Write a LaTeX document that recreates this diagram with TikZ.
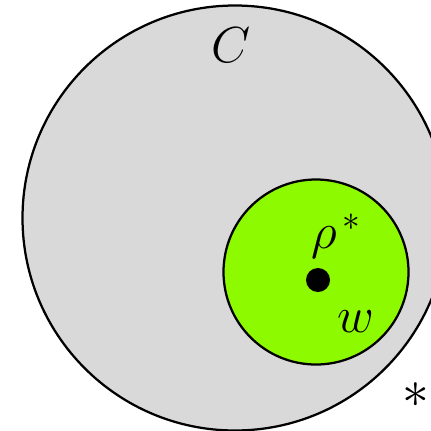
\RequirePackage{fix-cm}
\documentclass[tikz,border=0pt]{standalone}
\usepackage{amsmath}
\usepackage{tikz}
\usetikzlibrary{calc}

\definecolor{setgray}{RGB}{217,217,217}
\definecolor{setgreen}{RGB}{142,250,0}

\begin{document}
\begin{tikzpicture}[x=0.025cm,y=-0.025cm,
        setline/.style={draw=black,line width=1.6pt},
        lbl/.style={font=\fontsize{36}{40}\selectfont,inner sep=0pt}]

                % Frame of the picture
                \useasboundingbox (0,0) rectangle (431,430);
                \clip (0,0) rectangle (431,430);

                % Outer set C
                \filldraw[setline,fill=setgray] (235,218) circle[radius=212.5];

                % Inner set w
                \filldraw[setline,fill=setgreen] (316,272) circle[radius=92.5];

                % The point rho*
                \fill (318,280) circle[radius=12];

                % Labels
                \node[lbl] (labC) at (231,45) {$C$};
                \node[lbl] (labrho) at (336,236) {$\rho^{\,*}$};
                \node[lbl] (labw) at (356,322) {$w$};
                \node[lbl,font=\fontsize{38}{42}\selectfont] (labstar) at (416,395) {$*$};
            \end{tikzpicture}
\end{document}
